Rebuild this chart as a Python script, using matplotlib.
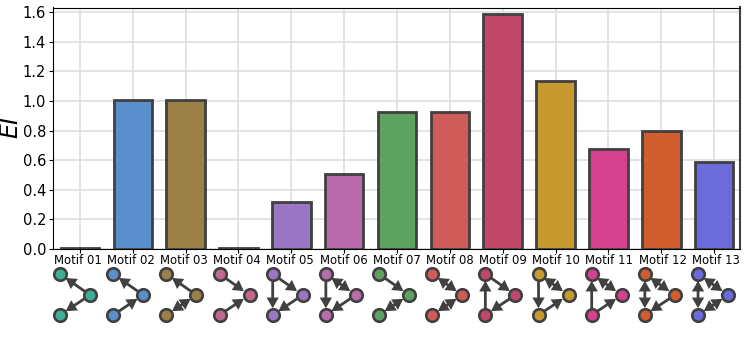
import matplotlib
matplotlib.use("Agg")
import matplotlib.pyplot as plt
import numpy as np

W, H = 748, 340

labels = ["Motif %02d" % i for i in range(1, 14)]
ei = [0.005, 1.005, 1.005, 0.005, 0.32, 0.51, 0.925, 0.925, 1.59, 1.135, 0.675, 0.80, 0.59]
colors = ["#3fae97", "#5a8fcb", "#9c8146", "#c1688d", "#9b76c4", "#b96bab", "#5da35f",
          "#d05c59", "#c1476b", "#c79a2f", "#d6418f", "#d15c2e", "#6b6bdc"]

# edges between the three nodes: top, right, bottom
ONE, BOTH = "-|>", "<|-|>"
edges = [
    [("r", "t", ONE), ("r", "b", ONE)],
    [("r", "t", ONE), ("b", "r", ONE)],
    [("r", "t", ONE), ("r", "b", BOTH)],
    [("t", "r", ONE), ("b", "r", ONE)],
    [("t", "r", ONE), ("t", "b", ONE), ("r", "b", ONE)],
    [("t", "r", BOTH), ("t", "b", ONE), ("r", "b", ONE)],
    [("t", "r", ONE), ("r", "b", BOTH)],
    [("t", "r", BOTH), ("r", "b", BOTH)],
    [("b", "t", ONE), ("t", "r", ONE), ("r", "b", ONE)],
    [("t", "r", BOTH), ("t", "b", ONE), ("b", "r", ONE)],
    [("b", "t", ONE), ("t", "r", BOTH), ("b", "r", ONE)],
    [("t", "b", BOTH), ("t", "r", BOTH), ("r", "b", ONE)],
    [("t", "b", BOTH), ("t", "r", BOTH), ("r", "b", BOTH)],
]

DARK = "#404040"

fig = plt.figure(figsize=(W / 100, H / 100), dpi=100)
ax = fig.add_axes([53 / W, 1 - 249 / H, (740 - 53) / W, (249 - 7.5) / H])

x = np.arange(len(labels))
ax.bar(x, ei, width=0.73, color=colors, edgecolor=DARK, linewidth=2, zorder=3)
ax.set_xlim(-0.51, 12.49)
ax.set_ylim(0, 1.632)
ax.set_yticks(np.arange(0, 1.7, 0.2))
ax.set_xticks(x)
ax.set_xticklabels([])
ax.tick_params(axis="y", labelsize=10.5, length=3, pad=2)
ax.tick_params(axis="x", length=3, pad=2)
ax.grid(color="#dedede", linewidth=1.2, zorder=0)
ax.set_axisbelow(True)
ax.spines["right"].set_color(DARK)
ax.spines["right"].set_linewidth(1.5)
ax.set_ylabel("$EI$", fontsize=17)
ax.yaxis.set_label_coords(-0.044, 0.503)

# overlay in pixels for the labels and little motif drawings
net = fig.add_axes([0, 0, 1, 1])
net.set_xlim(0, W)
net.set_ylim(H, 0)
net.axis("off")
net.patch.set_alpha(0)

for i in range(len(labels)):
    net.text(77.5 + i * 53.2, 260, labels[i], fontsize=8.4, ha="center", va="center")
    left = 60 + i * 53.17
    pos = {"t": (left, 274), "r": (left + 30, 295), "b": (left, 315)}
    for a, b, style in edges[i]:
        net.annotate("", xy=pos[b], xytext=pos[a],
                     arrowprops=dict(arrowstyle=style + ",head_length=0.46,head_width=0.27",
                                     color=DARK, lw=2, mutation_scale=10,
                                     shrinkA=5, shrinkB=5, joinstyle="miter"))
    for p in pos.values():
        net.plot(*p, "o", ms=9, mfc=colors[i], mec=DARK, mew=1.9, zorder=5)

fig.savefig("out.png", dpi=100)
